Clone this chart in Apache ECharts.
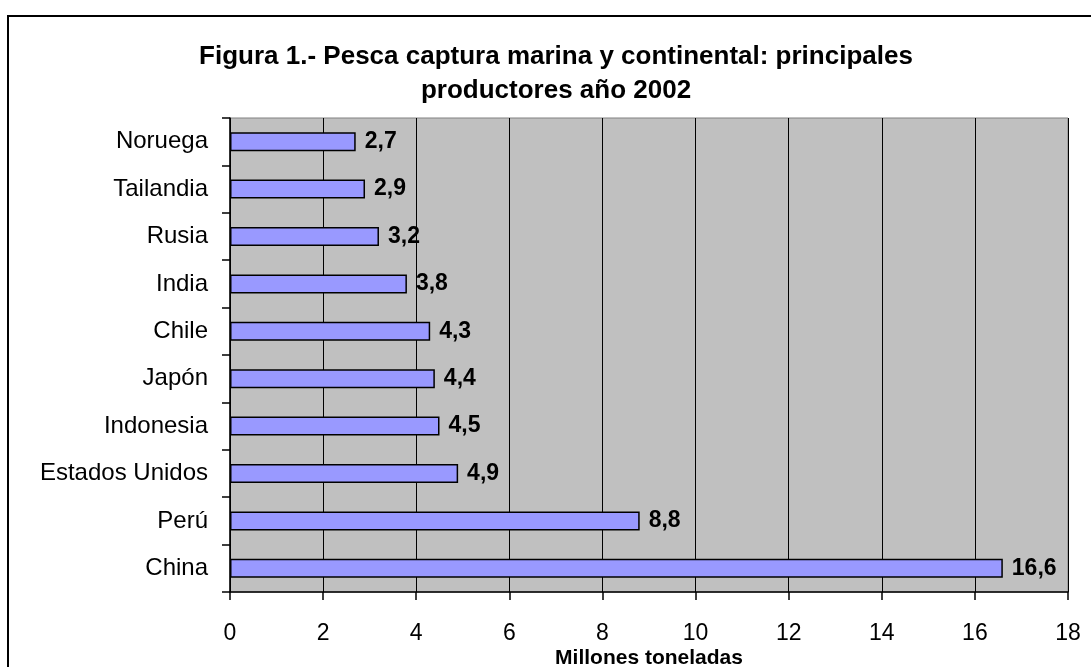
<!DOCTYPE html>
<html>
<head>
<meta charset="utf-8">
<script src="https://cdn.jsdelivr.net/npm/echarts@6/dist/echarts.min.js"></script>
<style>
html,body{margin:0;padding:0;background:#fff;}
#chart{width:1091px;height:667px;}
</style>
</head>
<body>
<div id="chart"></div>
<script>
// datos (de abajo hacia arriba)
var paises = ['China', 'Perú', 'Estados Unidos', 'Indonesia', 'Japón', 'Chile', 'India', 'Rusia', 'Tailandia', 'Noruega'];
var captura = [16.6, 8.8, 4.9, 4.5, 4.4, 4.3, 3.8, 3.2, 2.9, 2.7];
var ticksX = [0, 2, 4, 6, 8, 10, 12, 14, 16, 18];

var chart = echarts.init(document.getElementById('chart'));
var fuente = '"Liberation Sans", Arial, sans-serif';
var option = {
    animation: false,
    textStyle: { fontFamily: fuente },
    title: {
        text: 'Figura 1.- Pesca captura marina y continental: principales\nproductores año 2002',
        left: 556,
        top: 40,
        padding: 0,
        textAlign: 'center',
        textStyle: { fontSize: 26, fontWeight: 'bold', color: '#000', lineHeight: 34, fontFamily: fuente }
    },
    graphic: [{
        type: 'rect',
        shape: { x: 8, y: 16, width: 1200, height: 800 },
        style: { fill: 'none', stroke: '#000', lineWidth: 2 },
        z: -1
    }],
    grid: {
        left: 230, right: 23, top: 118, bottom: 75,
        outerBoundsMode: 'none',
        containLabel: false,
        show: true,
        backgroundColor: '#C0C0C0',
        borderColor: '#808080',
        borderWidth: 1
    },
    xAxis: {
        type: 'value',
        min: ticksX[0],
        max: ticksX[ticksX.length - 1],
        interval: 2,
        name: 'Millones toneladas',
        nameLocation: 'middle',
        nameGap: 56,
        nameMoveOverlap: false,
        nameTextStyle: { fontSize: 21, fontWeight: 'bold', color: '#000', fontFamily: fuente },
        axisLine: { show: true, lineStyle: { color: '#000', width: 1.5 } },
        axisTick: { show: true, length: 8, lineStyle: { color: '#000', width: 1.5 } },
        axisLabel: { fontSize: 23, color: '#000', margin: 30, fontFamily: fuente },
        splitLine: { show: true, lineStyle: { color: '#000', width: 1 } }
    },
    yAxis: {
        type: 'category',
        data: paises,
        axisLine: { show: true, lineStyle: { color: '#000', width: 1.5 } },
        axisTick: { show: true, length: 8, lineStyle: { color: '#000', width: 1.5 } },
        axisLabel: { fontSize: 24, color: '#000', margin: 22, fontFamily: fuente },
        splitLine: { show: false }
    },
    series: [{
        type: 'bar',
        data: captura,
        barWidth: 19,
        itemStyle: { color: '#9999FF', borderColor: '#000', borderWidth: 1.5 },
        label: {
            show: true,
            position: 'right',
            distance: 9,
            fontSize: 23,
            fontWeight: 'bold',
            color: '#000',
            fontFamily: fuente,
            formatter: function (p) { return String(p.value).replace('.', ','); }
        }
    }]
};
chart.setOption(option);
</script>
</body>
</html>
